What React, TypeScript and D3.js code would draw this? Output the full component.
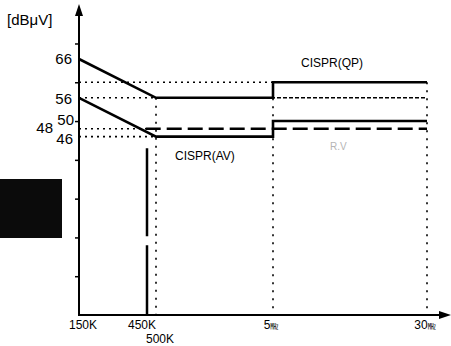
import React, { useEffect, useRef } from 'react';
import * as d3 from 'd3';

// frequency in MHz, level in dBuV
const freqTicks = [0.15, 0.45, 0.5, 5, 30];
const freqTickLabels = ['150K', '450K', '500K', '5', '30'];
const qpFreq = [0.15, 0.5, 5, 5, 30];
const qpLevel = [66, 56, 56, 60, 60];
const avFreq = [0.15, 0.5, 5, 5, 30];
const avLevel = [56, 46, 46, 50, 50];
const dbTicks = [10, 20, 30, 40, 50, 60, 70];
const dbLabels = [66, 56, 50, 48, 46];
const guideLevels = [60, 56, 48, 46];
const guideEnds = [5, 30, 0.45, 0.5];
const guideFreqs = [0.5, 5, 30];
const guideTops = [56, 60, 60];
const measFreq = [0.44, 30];
const measLevel = 48;
const measVertFreq = 0.45;
const measVertTop = 43;

const W = 451;
const H = 346;

const App = () => {
  const svgRef = useRef<SVGSVGElement | null>(null);

  useEffect(() => {
    const svg = d3.select(svgRef.current);
    svg.selectAll('*').remove();

    const x = d3.scaleLinear().domain(freqTicks).range([79, 148, 156, 273, 427]);
    const y = d3.scaleLinear().domain([0, 66]).range([315, 59]);
    const font = '"Liberation Sans", Arial, sans-serif';

    // scanned block on the left
    svg.append('rect').attr('x', 0).attr('y', 179).attr('width', 62).attr('height', 59).attr('fill', '#0b0b0b');

    // dotted guides
    guideLevels.forEach((lv, i) => {
      svg.append('line')
        .attr('x1', x(0.15)).attr('x2', x(guideEnds[i]))
        .attr('y1', y(lv)).attr('y2', y(lv))
        .attr('stroke', '#000').attr('stroke-width', 1.6)
        .attr('stroke-dasharray', '2,4');
    });
    // 56 continues right of 5M
    svg.append('line')
      .attr('x1', x(5)).attr('x2', x(30)).attr('y1', y(56)).attr('y2', y(56))
      .attr('stroke', '#000').attr('stroke-width', 1.6).attr('stroke-dasharray', '2,4');
    guideFreqs.forEach((f, i) => {
      svg.append('line')
        .attr('x1', x(f)).attr('x2', x(f))
        .attr('y1', y(guideTops[i])).attr('y2', y(0))
        .attr('stroke', '#000').attr('stroke-width', 1.6)
        .attr('stroke-dasharray', '2,6');
    });

    // dashed measurement line
    svg.append('line')
      .attr('x1', x(measFreq[0])).attr('x2', x(measFreq[1]))
      .attr('y1', y(measLevel)).attr('y2', y(measLevel))
      .attr('stroke', '#000').attr('stroke-width', 2.5)
      .attr('stroke-dasharray', '15,6');
    svg.append('line')
      .attr('x1', x(measVertFreq) - 1).attr('x2', x(measVertFreq) - 1)
      .attr('y1', y(measVertTop)).attr('y2', y(0))
      .attr('stroke', '#000').attr('stroke-width', 2.5)
      .attr('stroke-dasharray', '88,9');

    // limit lines
    const line = d3.line<[number, number]>().x(d => x(d[0])).y(d => y(d[1]));
    svg.append('path')
      .attr('d', line(qpFreq.map((f, i) => [f, qpLevel[i]])))
      .attr('fill', 'none').attr('stroke', '#000').attr('stroke-width', 2.6);
    svg.append('path')
      .attr('d', line(avFreq.map((f, i) => [f, avLevel[i]])))
      .attr('fill', 'none').attr('stroke', '#000').attr('stroke-width', 2.6);

    // axes
    svg.append('g')
      .attr('transform', `translate(${x(0.15)},0)`)
      .call(d3.axisLeft(y).tickValues(dbTicks).tickSize(4).tickFormat(() => ''))
      .call(g => g.select('.domain').remove())
      .call(g => g.selectAll('line').attr('stroke-width', 1.5));
    svg.append('line').attr('x1', x(0.15)).attr('x2', x(0.15)).attr('y1', y(0) + 1).attr('y2', 12)
      .attr('stroke', '#000').attr('stroke-width', 2);
    svg.append('path').attr('d', `M${x(0.15)},4 L${x(0.15) - 4},16 L${x(0.15) + 4},16 Z`).attr('fill', '#000');
    svg.append('line').attr('x1', x(0.15) - 1).attr('x2', 442).attr('y1', y(0)).attr('y2', y(0))
      .attr('stroke', '#000').attr('stroke-width', 2);
    svg.append('path').attr('d', `M451,${y(0)} L439,${y(0) - 4} L439,${y(0) + 4} Z`).attr('fill', '#000');

    // y labels
    svg.append('text').attr('x', 7).attr('y', 25).attr('font-family', font).attr('font-size', 15)
      .text('[dBμV]');
    const lblX: Record<number, number> = { 66: 72, 56: 72, 50: 74, 48: 53, 46: 73 };
    const lblDy: Record<number, number> = { 66: 5, 56: 6, 50: 4, 48: 4, 46: 7 };
    dbLabels.forEach(v => {
      svg.append('text')
        .attr('x', lblX[v]).attr('y', y(v) + lblDy[v])
        .attr('text-anchor', 'end').attr('font-family', font).attr('font-size', 15)
        .text(String(v));
    });

    // x labels
    freqTicks.forEach((f, i) => {
      const t = svg.append('text')
        .attr('x', f === 0.45 ? x(f) - 6 : x(f) + 4)
        .attr('y', f === 0.5 ? 343 : 329)
        .attr('text-anchor', 'middle').attr('font-family', font).attr('font-size', 12)
        .text(freqTickLabels[i]);
      if (f >= 5) {
        t.attr('x', x(f) - 2);
        t.append('tspan').attr('font-size', 8).attr('font-family', '"Noto Sans CJK KR", sans-serif').text('㎒');
      }
    });

    // series labels
    svg.append('text').attr('x', 301).attr('y', 67).attr('font-family', font).attr('font-size', 12).text('CISPR(QP)');
    svg.append('text').attr('x', 175).attr('y', 160).attr('font-family', font).attr('font-size', 12).text('CISPR(AV)');
    svg.append('text').attr('x', 330).attr('y', 150).attr('font-family', font).attr('font-size', 10)
      .attr('fill', '#b5b5b5').text('R.V');
  }, []);

  return (
    <svg ref={svgRef} width={W} height={H}
      style={{ position: 'absolute', left: 0, top: 0, background: '#fff' }} />
  );
};

export default App;
